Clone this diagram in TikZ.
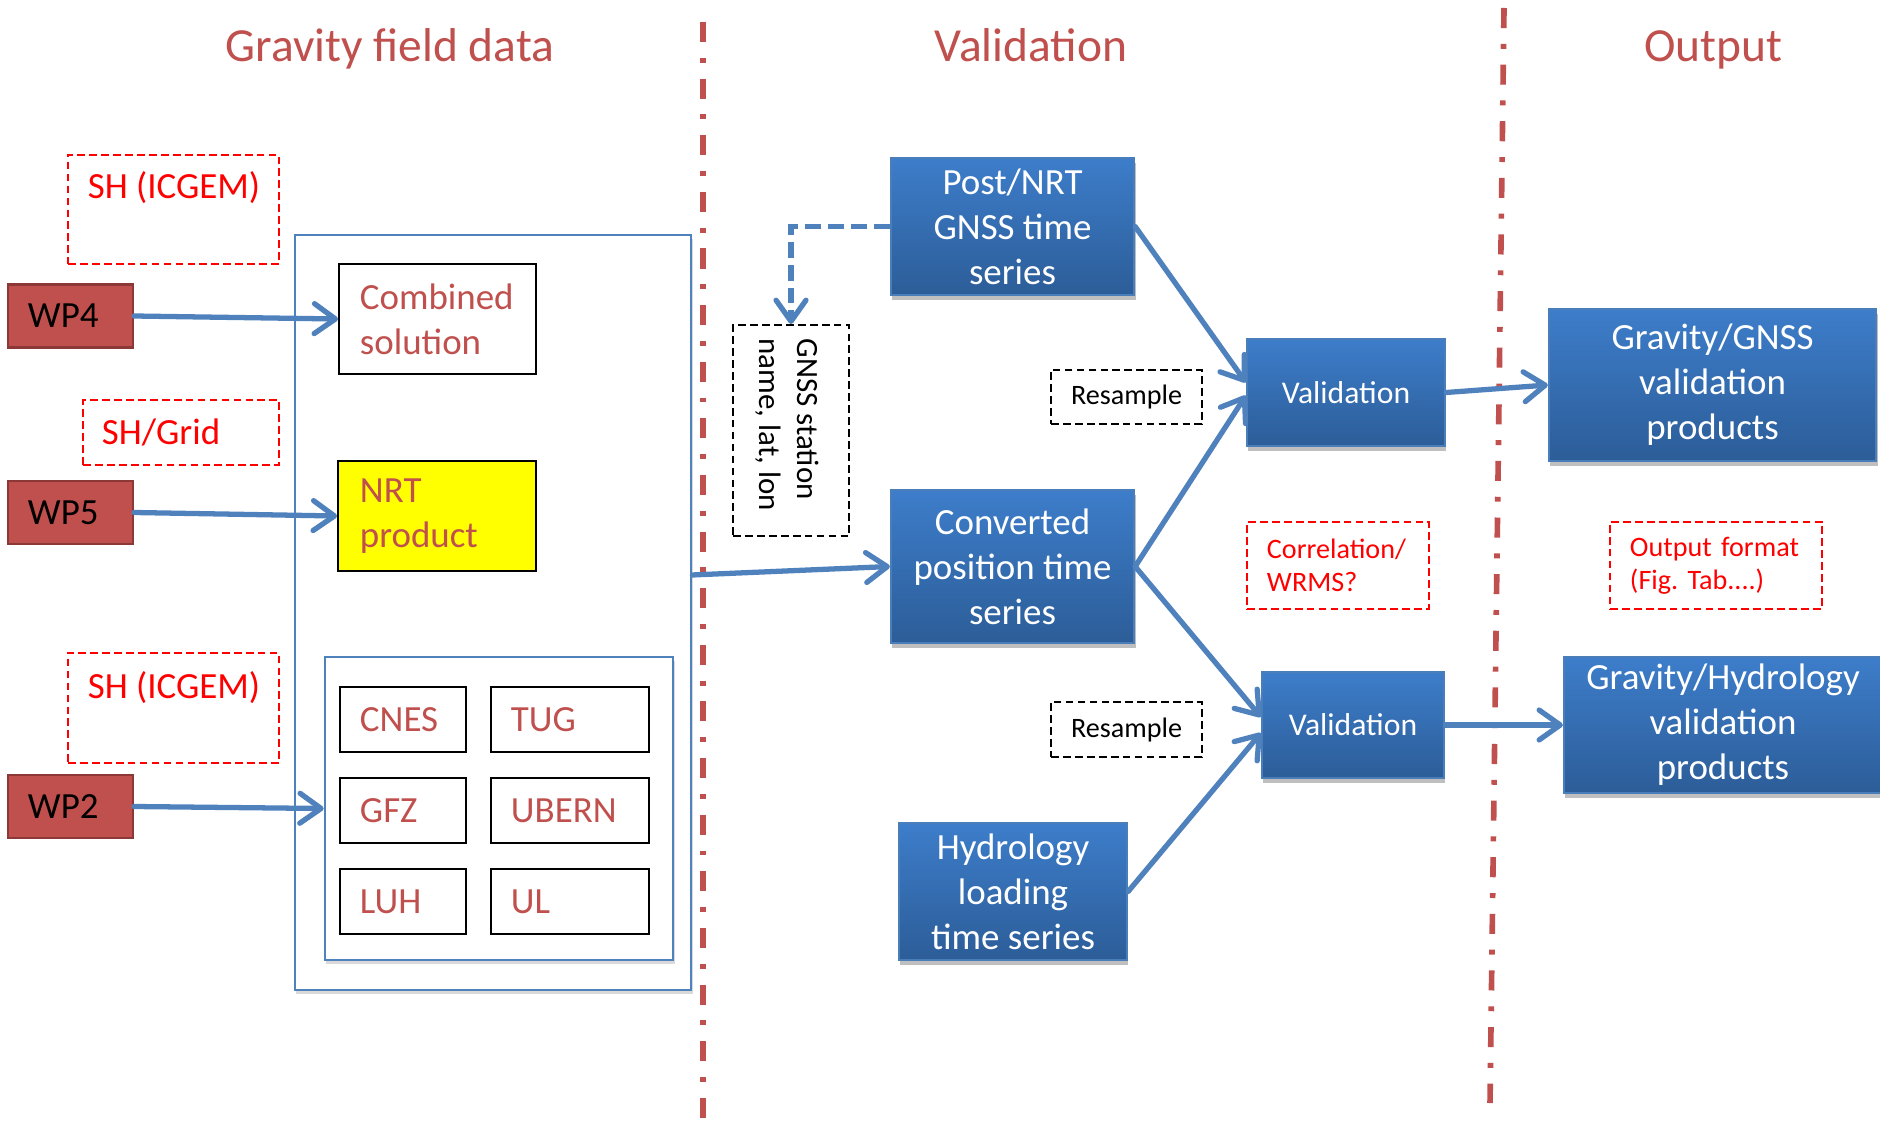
\documentclass[tikz,border=0pt]{standalone}
\usepackage{fontspec}
\setmainfont{Carlito}
\usetikzlibrary{arrows.meta,shadows,calc}
\definecolor{tred}{RGB}{192,80,77}
\definecolor{wpborder}{RGB}{140,56,54}
\definecolor{bline}{RGB}{79,129,189}
\definecolor{btop}{RGB}{61,125,202}
\definecolor{bbot}{RGB}{44,93,152}
\definecolor{bdraw}{RGB}{74,126,187}
\definecolor{pred}{RGB}{255,0,0}
\definecolor{nrtyellow}{RGB}{255,255,0}
\begin{document}
\frenchspacing
\begin{tikzpicture}[x=0.01cm,y=-0.01cm,
  title/.style={text=tred, font=\fontsize{13.5}{16}\selectfont, anchor=base, inner sep=0pt},
  divider/.style={draw=tred, line width=1.6pt, dash pattern=on 5.7pt off 4.5pt on 1.4pt off 4.5pt},
  wpbox/.style={draw=wpborder, fill=tred, line width=0.6pt, text=black, font=\fontsize{10.5}{12.8}\selectfont, inner ysep=0pt, inner xsep=0.2cm, text width=0.85cm, align=left, minimum width=1.25cm, minimum height=0.63cm},
  reddash/.style={draw=pred, dash pattern=on 2.2pt off 1.2pt, line width=0.55pt, inner sep=0pt},
  redbig/.style={text=pred, font=\fontsize{10.5}{12.8}\selectfont, inner sep=0pt},
  redsmall/.style={text=pred, font=\fontsize{8}{9.5}\selectfont},
  blackdash/.style={draw=black, dash pattern=on 2.2pt off 1.2pt, line width=0.55pt, inner sep=0pt, font=\fontsize{8}{9.5}\selectfont},
  whitebox/.style={draw=black, line width=0.5pt, fill=white, text=tred, font=\fontsize{10.5}{12.8}\selectfont, align=left, inner ysep=0pt},
  outline/.style={draw=bline, line width=0.7pt, inner sep=0pt},
  bluebox/.style={draw=bdraw, line width=0.6pt, top color=btop, bottom color=bbot, text=white, font=\fontsize{10.5}{12.8}\selectfont, align=center, inner sep=0pt, drop shadow={opacity=0.25, shadow xshift=0.4pt, shadow yshift=-1.3pt, fill=black}},
  valfont/.style={font=\fontsize{9}{11}\selectfont},
  arr/.style={draw=bline, line width=1.5pt, line cap=round, line join=round, -{Straight Barb[length=6pt,width=8.5pt,round]}},
  darr/.style={draw=bline, line width=1.5pt, dash pattern=on 4.5pt off 2pt, -{Straight Barb[length=6pt,width=8.5pt,round]}}
]
\useasboundingbox (0,0) rectangle (1880,1122);

% titles
\node[title] (t1) at (390,62) {Gravity field data};
\node[title] (t2) at (1031,62) {Validation};
\node[title] (t3) at (1713,62) {Output};

% dividers
\coordinate (d1a) at (703,22);
\coordinate (d1b) at (703,1122);
\coordinate (d2a) at (1504,8);
\coordinate (d2b) at (1490,1103);
\draw[divider] (d1a) -- (d1b);
\draw[divider] (d2a) -- (d2b);

% left column
\node[reddash, minimum width=2.11cm, minimum height=1.09cm] (sh1) at (173.5,209.5) {};
\node[redbig] (sh1t) at (174,188) {SH (ICGEM)};
\node[wpbox] (wp4) at (70.5,316) {WP4};
\node[reddash, minimum width=1.96cm, minimum height=0.65cm, redbig, text width=1.58cm, inner xsep=0.19cm, align=left] (shg) at (181,432.5) {SH/Grid};
\node[wpbox] (wp5) at (70.5,512.5) {WP5};
\node[reddash, minimum width=2.11cm, minimum height=1.10cm] (sh2) at (173.5,708) {};
\node[redbig] (sh2t) at (174,688) {SH (ICGEM)};
\node[wpbox] (wp2) at (70.5,806.5) {WP2};

\node[outline, minimum width=3.96cm, minimum height=7.55cm, drop shadow={opacity=0.15, shadow xshift=0.4pt, shadow yshift=-1.2pt, fill=black}, fill=white] (outer) at (493,612.5) {};
\node[whitebox, minimum width=1.97cm, minimum height=1.10cm, inner xsep=0.21cm, text width=1.55cm] (comb) at (437.5,319) {Combined\\solution};
\node[whitebox, fill=nrtyellow, minimum width=1.98cm, minimum height=1.10cm, inner xsep=0.22cm, text width=1.54cm] (nrt) at (437,516) {NRT\\product};
\node[outline, minimum width=3.48cm, minimum height=3.03cm, drop shadow={opacity=0.15, shadow xshift=0.4pt, shadow yshift=-1.2pt, fill=black}, fill=white] (inner) at (499,808.5) {};
\node[whitebox, minimum width=1.26cm, minimum height=0.65cm, inner xsep=0.20cm, text width=0.86cm] (cnes) at (403,719.5) {CNES};
\node[whitebox, minimum width=1.58cm, minimum height=0.65cm, inner xsep=0.20cm, text width=1.18cm] (tug) at (570,719.5) {TUG};
\node[whitebox, minimum width=1.26cm, minimum height=0.65cm, inner xsep=0.20cm, text width=0.86cm] (gfz) at (403,810.5) {GFZ};
\node[whitebox, minimum width=1.58cm, minimum height=0.65cm, inner xsep=0.20cm, text width=1.18cm] (ubern) at (570,810.5) {UBERN};
\node[whitebox, minimum width=1.26cm, minimum height=0.65cm, inner xsep=0.20cm, text width=0.86cm] (luh) at (403,901.5) {LUH};
\node[whitebox, minimum width=1.58cm, minimum height=0.65cm, inner xsep=0.20cm, text width=1.18cm] (ul) at (570,901.5) {UL};

% middle column
\node[bluebox, minimum width=2.43cm, minimum height=1.37cm] (post) at (1012.5,226.5) {Post/NRT\\GNSS time\\series};
\node[blackdash, minimum width=1.16cm, minimum height=2.11cm] (gnss) at (791,430.5) {};
\node[font=\fontsize{8.8}{10.9}\selectfont, rotate=-90, anchor=west, align=left, inner sep=0pt] (gnsst) at (787,338) {GNSS station\\name, lat, lon};
\node[blackdash, minimum width=1.51cm, minimum height=0.54cm] (res1) at (1126.5,397) {Resample};
\node[bluebox, valfont, minimum width=1.98cm, minimum height=1.07cm] (val1) at (1346,392.5) {Validation};
\node[bluebox, minimum width=2.43cm, minimum height=1.53cm] (conv) at (1012.5,566.5) {Converted\\position time\\series};
\node[reddash, redsmall, minimum width=1.82cm, minimum height=0.87cm, inner xsep=0.20cm, text width=1.42cm, align=left] (corr) at (1338,565.5) {Correlation/\\WRMS?};
\node[reddash, redsmall, minimum width=2.12cm, minimum height=0.87cm, inner xsep=0.20cm, text width=1.72cm, align=left] (outf) at (1716,565.5) {Output format\\(Fig. Tab....)};
\node[blackdash, minimum width=1.51cm, minimum height=0.55cm] (res2) at (1126.5,729.5) {Resample};
\node[bluebox, valfont, minimum width=1.82cm, minimum height=1.06cm] (val2) at (1353,725) {Validation};
\node[bluebox, minimum width=2.28cm, minimum height=1.37cm] (hydro) at (1013,891.5) {Hydrology\\loading\\time series};

% right column
\node[bluebox, minimum width=3.27cm, minimum height=1.52cm] (ggnss) at (1712.5,385) {Gravity/GNSS\\validation\\products};
\node[bluebox, minimum width=3.18cm, minimum height=1.36cm] (ghyd) at (1723,725) {Gravity/Hydrology\\validation\\products};

% connectors
\draw[arr] (wp4.east) -- (comb.west);
\draw[arr] (wp5.east) -- (nrt.west);
\draw[arr] (wp2.east) -- (inner.west);
\draw[arr] ([yshift=0.375cm]outer.east) -- (conv.west);
\draw[darr] (post.west) -| (gnss.north);
\draw[arr] (post.east) -- ([yshift=0.1cm]val1.west);
\draw[arr] (conv.east) -- ([yshift=-0.03cm]val1.west);
\draw[arr] (conv.east) -- ([yshift=0.08cm]val2.west);
\draw[arr] (hydro.east) -- ([yshift=-0.08cm]val2.west);
\draw[arr] (val1.east) -- (ggnss.west);
\draw[arr] (val2.east) -- (ghyd.west);
\end{tikzpicture}
\end{document}
